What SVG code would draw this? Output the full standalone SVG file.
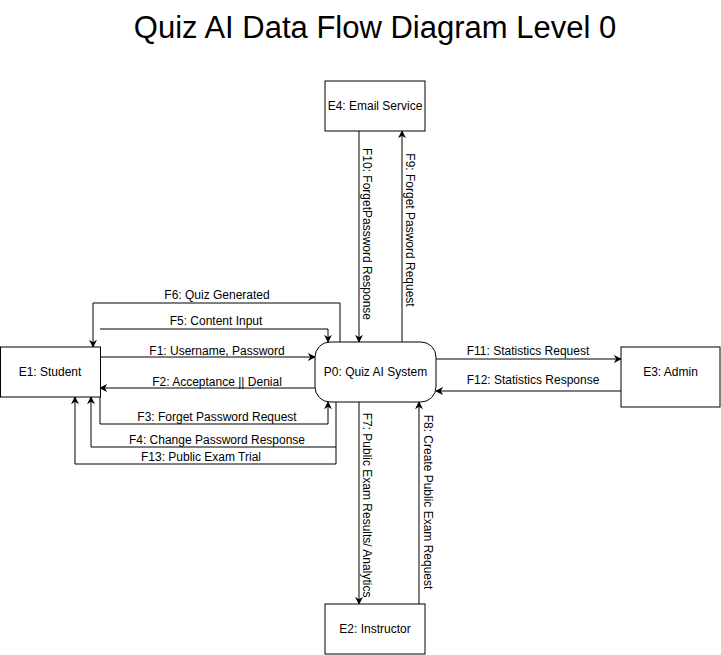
<svg xmlns="http://www.w3.org/2000/svg" width="721" height="655" viewBox="0 0 721 655">
<style>
.box{fill:#fff;stroke:#000;stroke-width:1}
.t{font-family:"Liberation Sans",Arial,sans-serif;font-size:12px;fill:#000;text-anchor:middle;dominant-baseline:central}
.e{fill:none;stroke:#000;stroke-width:1;marker-end:url(#a)}
.title{font-family:"Liberation Sans",Arial,sans-serif;font-size:31px;fill:#000;text-anchor:middle}
</style>
<defs>
<marker id="a" viewBox="0 0 10 10" refX="9" refY="5" markerWidth="8" markerHeight="8" markerUnits="userSpaceOnUse" orient="auto">
<path d="M0,0 L10,5 L0,10 L3,5 Z" fill="#000"/>
</marker>
</defs>
<rect width="721" height="655" fill="#fff"/>
<text class="title" x="375" y="38">Quiz AI Data Flow Diagram Level 0</text>
<g id="connectors">
<path class="e" d="M340,342 V303 H93 V347"/>
<path class="e" d="M100,329 H328 V342"/>
<path class="e" d="M100,357 H315"/>
<path class="e" d="M315,388 H100"/>
<path class="e" d="M100,397 V424 H328 V402"/>
<path class="e" d="M336,402 V447 H91 V397"/>
<path class="e" d="M336,447 V464 H75 V397"/>
<path class="e" d="M359,131 V342"/>
<path class="e" d="M402,342 V131"/>
<path class="e" d="M359,402 V604"/>
<path class="e" d="M419,604 V402"/>
<path class="e" d="M436,359 H621"/>
<path class="e" d="M621,391 H436"/>
<text class="t" x="217" y="295">F6: Quiz Generated</text>
<text class="t" x="216" y="321">F5: Content Input</text>
<text class="t" x="217" y="351">F1: Username, Password</text>
<text class="t" x="217" y="382">F2: Acceptance || Denial</text>
<text class="t" x="217" y="417">F3: Forget Password Request</text>
<text class="t" x="217" y="440">F4: Change Password Response</text>
<text class="t" x="201" y="457">F13: Public Exam Trial</text>
<text class="t" transform="translate(367,234) rotate(90)">F10: ForgetPassword Response</text>
<text class="t" transform="translate(410,230) rotate(90)">F9: Forget Pasword Request</text>
<text class="t" transform="translate(367,505) rotate(90)">F7: Public Exam Results/ Analytics</text>
<text class="t" transform="translate(428,502) rotate(90)">F8: Create Public Exam Request</text>
<text class="t" x="528" y="351">F11: Statistics Request</text>
<text class="t" x="533" y="380">F12: Statistics Response</text>
</g>
<g id="E1">
<rect class="box" x="0.5" y="347" width="100" height="50"/>
<text class="t" x="50" y="372">E1: Student</text>
</g>
<g id="P0">
<rect class="box" x="315" y="342" width="121" height="60" rx="15" ry="15"/>
<text class="t" x="375.5" y="372">P0: Quiz AI System</text>
</g>
<g id="E4">
<rect class="box" x="325" y="81" width="100" height="50"/>
<text class="t" x="375" y="106">E4: Email Service</text>
</g>
<g id="E2">
<rect class="box" x="325" y="604" width="100" height="50"/>
<text class="t" x="375" y="629">E2: Instructor</text>
</g>
<g id="E3">
<rect class="box" x="621" y="347" width="99" height="60"/>
<text class="t" x="670.5" y="372">E3: Admin</text>
</g>
</svg>
